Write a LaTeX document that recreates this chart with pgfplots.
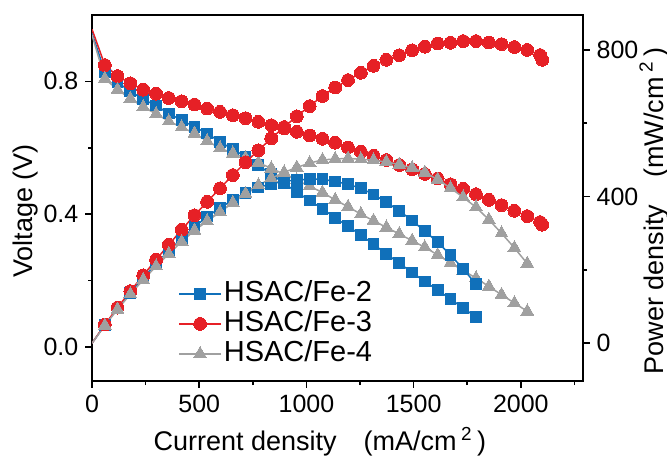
\documentclass[border=0pt]{standalone}
\usepackage{pgfplots}
\pgfplotsset{compat=1.18}
\usepackage{pgfplotstable}
\usepackage{fontspec}
\setmainfont{Liberation Sans}
\definecolor{cblue}{RGB}{16,112,186}
\definecolor{cred}{RGB}{230,32,38}
\definecolor{cgray}{RGB}{160,160,160}

\pgfplotstableread{
I V P
0 0.945 0
60 0.829 49.7
119 0.797 94.8
179 0.770 137.8
239 0.746 178.3
299 0.727 217.4
358 0.703 251.7
418 0.683 285.5
478 0.663 316.9
537 0.643 345.3
597 0.618 368.9
657 0.595 390.9
716 0.573 410.3
776 0.547 424.5
836 0.520 434.7
896 0.493 441.7
955 0.466 445.0
1015 0.441 447.6
1075 0.416 447.2
1134 0.389 441.1
1194 0.363 433.4
1254 0.337 422.6
1313 0.309 405.7
1373 0.280 384.4
1433 0.252 361.1
1493 0.224 334.4
1552 0.197 305.7
1612 0.171 275.7
1672 0.144 240.8
1731 0.117 202.5
1791 0.090 161.2
}\tblue

\pgfplotstableread{
I V P
0 0.957 0
60 0.849 50.9
119 0.816 97.1
179 0.794 142.1
239 0.775 185.2
299 0.763 228.1
358 0.750 268.5
418 0.740 309.3
478 0.730 348.9
537 0.718 385.6
597 0.708 422.7
657 0.698 458.6
716 0.689 493.3
776 0.678 526.1
836 0.668 558.4
896 0.658 589.6
955 0.648 618.8
1015 0.637 646.6
1075 0.627 674.0
1134 0.615 697.4
1194 0.601 717.6
1254 0.588 737.4
1313 0.576 756.3
1373 0.563 773.0
1433 0.548 785.3
1493 0.535 798.8
1552 0.521 808.6
1612 0.507 817.3
1672 0.490 819.3
1731 0.476 824.0
1791 0.460 823.9
1851 0.443 820.0
1910 0.427 815.6
1970 0.410 807.7
2030 0.394 799.8
2090 0.376 785.8
2100 0.368 772.8
}\tred

\pgfplotstableread{
I V P
0 0.940 0
60 0.808 48.5
119 0.775 92.2
179 0.748 133.9
239 0.723 172.8
299 0.702 209.9
358 0.680 243.4
418 0.662 276.7
478 0.643 307.4
537 0.620 332.9
597 0.599 357.6
657 0.583 383.0
716 0.569 407.4
776 0.555 430.7
836 0.538 449.8
896 0.520 465.9
955 0.502 479.4
1015 0.484 491.3
1075 0.465 499.9
1134 0.443 502.4
1194 0.422 503.9
1254 0.400 501.6
1313 0.380 498.9
1373 0.360 494.3
1433 0.340 487.2
1493 0.320 477.8
1552 0.300 465.6
1612 0.277 446.5
1672 0.253 423.0
1731 0.230 398.1
1791 0.207 370.7
1851 0.182 336.9
1910 0.157 299.9
1970 0.132 260.0
2030 0.107 217.2
}\tgray

\pgfplotsset{
  common/.style={
    scale only axis, width=245.5pt, height=183pt,
    at={(0pt,0pt)}, anchor=south west,
    xmin=0, xmax=2290,
    scaled ticks=false,
    /pgf/number format/assume math mode=true,
    /pgf/number format/1000 sep={},
    tick label style={font=\fontsize{12.5}{14}\selectfont},
    axis line style={line width=1pt},
    tick style={line width=0.8pt, black},
    major tick length=3.3pt, minor tick length=2pt,
    tick align=outside,
  },
  sblue/.style={color=cblue, line width=0.75pt, mark=square*, mark size=2.7pt, mark phase=2, mark repeat=1, mark options={solid, fill=cblue, draw=cblue, line width=0pt}},
  sred/.style={color=cred, line width=0.75pt, mark=*, mark size=3.2pt, mark phase=2, mark repeat=1, mark options={solid, fill=cred, draw=cred, line width=0pt}},
  sgray/.style={color=cgray, line width=0.75pt, mark=triangle*, mark size=3.7pt, mark phase=2, mark repeat=1, mark options={solid, fill=cgray, draw=cgray, line width=0pt}},
}

\begin{document}
\begin{tikzpicture}
\useasboundingbox (-46pt,-37.5pt) rectangle (287.5pt,190.5pt);
\begin{axis}[common,
  ymin=-0.103, ymax=1.0,
  xtick={0,500,...,2000}, minor xtick={250,750,...,2250},
  ytick={0,0.4,0.8}, minor ytick={0.2,0.6},
  xtick pos=left, ytick pos=left,
  yticklabel style={/pgf/number format/.cd, fixed, fixed zerofill, precision=1},
  xlabel={Current density\quad(mA/cm\,\textsuperscript{2}\,)},
  ylabel={Voltage (V)},
  every axis x label/.style={at={(axis description cs:0.464,-0.191)}, anchor=base, font=\fontsize{13.5}{15}\selectfont},
  every axis y label/.style={at={(axis description cs:-0.122,0.464)}, rotate=90, anchor=base, font=\fontsize{13.5}{15}\selectfont},
]
\addplot[sblue] table[x=I, y=V] {\tblue};
\addplot[sred] table[x=I, y=V] {\tred};
\addplot[sgray] table[x=I, y=V] {\tgray};
\end{axis}
\begin{axis}[common,
  axis x line=none, axis y line*=right,
  ymin=-103, ymax=895,
  ytick={0,400,800}, minor ytick={200,600},
  ylabel={Power density\quad(mW/cm\,\textsuperscript{2}\,)},
  every axis y label/.style={at={(axis description cs:1.163,0.464)}, rotate=90, anchor=base, font=\fontsize{13.5}{15}\selectfont},
  legend cell align=left,
  legend image code/.code={\draw[#1, mark repeat=2, mark phase=2] plot coordinates {(0pt,0pt) (10.5pt,0pt) (21pt,0pt)};},
  legend style={draw=none, fill=none, inner sep=0pt, row sep=0pt,
    at={(axis description cs:0.175,0.28)}, anchor=north west,
    font=\fontsize{14.5}{15}\selectfont,
    nodes={text height=10.5pt, text depth=2.5pt, inner sep=1pt}},
]
\addplot[sblue] table[x=I, y=P] {\tblue};
\addlegendentry{HSAC/Fe-2}
\addplot[sred] table[x=I, y=P] {\tred};
\addlegendentry{HSAC/Fe-3}
\addplot[sgray] table[x=I, y=P] {\tgray};
\addlegendentry{HSAC/Fe-4}
\end{axis}
\end{tikzpicture}
\end{document}
